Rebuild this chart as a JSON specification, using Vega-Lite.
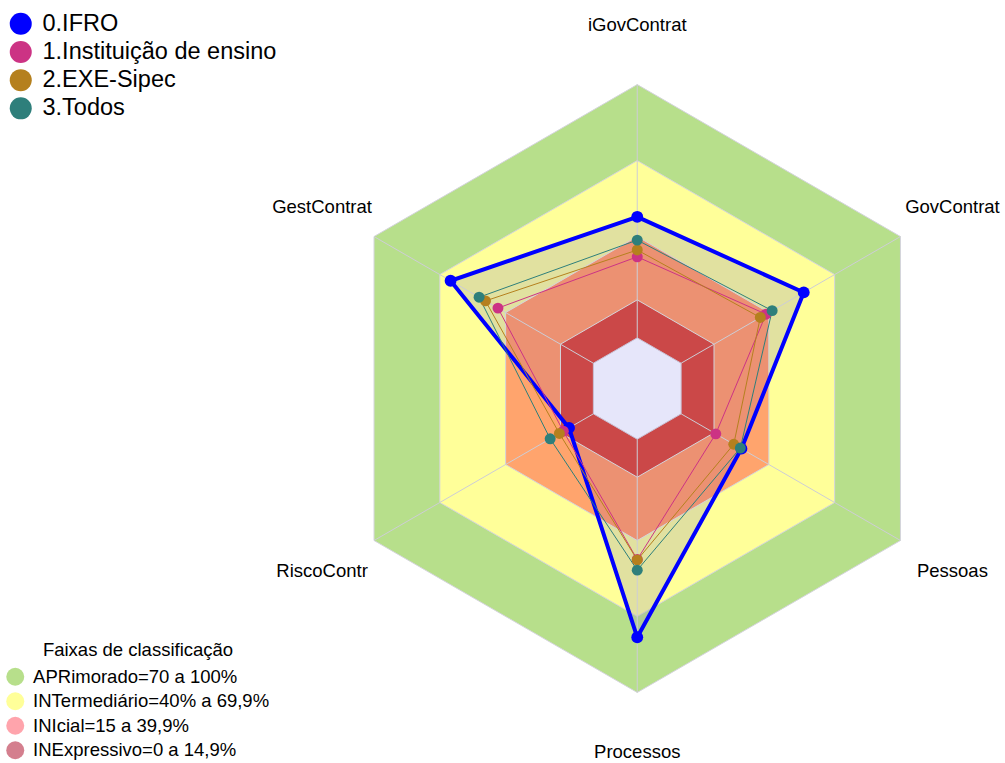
{
  "$schema": "https://vega.github.io/schema/vega-lite/v6.json",
  "width": 1005,
  "height": 763,
  "padding": 0,
  "autosize": "none",
  "background": "white",
  "config": {"view": {"stroke": null}, "font": "Liberation Sans"},
  "datasets": {
    "series": [
      {"serie": "0.IFRO", "eixo": "iGovContrat", "idx": 0, "valor": 47.8},
      {"serie": "0.IFRO", "eixo": "GovContrat", "idx": 1, "valor": 55.9},
      {"serie": "0.IFRO", "eixo": "Pessoas", "idx": 2, "valor": 27.5},
      {"serie": "0.IFRO", "eixo": "Processos", "idx": 3, "valor": 78.2},
      {"serie": "0.IFRO", "eixo": "RiscoContr", "idx": 4, "valor": 11.1},
      {"serie": "0.IFRO", "eixo": "GestContrat", "idx": 5, "valor": 65.1},
      {"serie": "1.Instituição de ensino", "eixo": "iGovContrat", "idx": 0, "valor": 32.0},
      {"serie": "1.Instituição de ensino", "eixo": "GovContrat", "idx": 1, "valor": 38.7},
      {"serie": "1.Instituição de ensino", "eixo": "Pessoas", "idx": 2, "valor": 15.8},
      {"serie": "1.Instituição de ensino", "eixo": "Processos", "idx": 3, "valor": 47.5},
      {"serie": "1.Instituição de ensino", "eixo": "RiscoContr", "idx": 4, "valor": 13.7},
      {"serie": "1.Instituição de ensino", "eixo": "GestContrat", "idx": 5, "valor": 43.5},
      {"serie": "2.EXE-Sipec", "eixo": "iGovContrat", "idx": 0, "valor": 34.7},
      {"serie": "2.EXE-Sipec", "eixo": "GovContrat", "idx": 1, "valor": 36.1},
      {"serie": "2.EXE-Sipec", "eixo": "Pessoas", "idx": 2, "valor": 24.0},
      {"serie": "2.EXE-Sipec", "eixo": "Processos", "idx": 3, "valor": 47.7},
      {"serie": "2.EXE-Sipec", "eixo": "RiscoContr", "idx": 4, "valor": 15.5},
      {"serie": "2.EXE-Sipec", "eixo": "GestContrat", "idx": 5, "valor": 49.2},
      {"serie": "3.Todos", "eixo": "iGovContrat", "idx": 0, "valor": 38.6},
      {"serie": "3.Todos", "eixo": "GovContrat", "idx": 1, "valor": 41.5},
      {"serie": "3.Todos", "eixo": "Pessoas", "idx": 2, "valor": 27.0},
      {"serie": "3.Todos", "eixo": "Processos", "idx": 3, "valor": 51.7},
      {"serie": "3.Todos", "eixo": "RiscoContr", "idx": 4, "valor": 19.7},
      {"serie": "3.Todos", "eixo": "GestContrat", "idx": 5, "valor": 52.1}
    ],
    "faixas": [
      {"faixa": "APRimorado=70 a 100%", "limite": 100, "idx": [0, 1, 2, 3, 4, 5]},
      {"faixa": "INTermediário=40% a 69,9%", "limite": 70, "idx": [0, 1, 2, 3, 4, 5]},
      {"faixa": "INIcial=15 a 39,9%", "limite": 40, "idx": [0, 1, 2, 3, 4, 5]},
      {"faixa": "INExpressivo=0 a 14,9%", "limite": 15, "idx": [0, 1, 2, 3, 4, 5]},
      {"faixa": "centro", "limite": 0, "idx": [0, 1, 2, 3, 4, 5]}
    ],
    "eixos": [
      {"eixo": "iGovContrat", "idx": 0},
      {"eixo": "GovContrat", "idx": 1},
      {"eixo": "Pessoas", "idx": 2},
      {"eixo": "Processos", "idx": 3},
      {"eixo": "RiscoContr", "idx": 4},
      {"eixo": "GestContrat", "idx": 5}
    ]
  },
  "encoding": {
    "x": {"field": "x", "type": "quantitative", "scale": {"domain": [-251.6, 145.2], "nice": false, "zero": false}, "axis": null},
    "y": {"field": "y", "type": "quantitative", "scale": {"domain": [-147.85, 153.4], "nice": false, "zero": false}, "axis": null}
  },
  "layer": [
    {
      "data": {"name": "faixas"},
      "transform": [
        {"filter": "datum.faixa === 'APRimorado=70 a 100%'"},
        {"flatten": ["idx"]},
        {"calculate": "(90 - 60*datum.idx)*PI/180", "as": "ang"},
        {"calculate": "(datum.limite + 20)*cos(datum.ang)", "as": "x"},
        {"calculate": "(datum.limite + 20)*sin(datum.ang)", "as": "y"}
      ],
      "mark": {"type": "line", "interpolate": "linear-closed", "stroke": "#D4D4DC", "strokeWidth": 1},
      "encoding": {
        "fill": {"field": "faixa", "type": "nominal",
          "scale": {"domain": ["APRimorado=70 a 100%", "INTermediário=40% a 69,9%", "INIcial=15 a 39,9%", "INExpressivo=0 a 14,9%"],
                    "range": ["#B7DF8B", "#FFFF99", "rgba(255,20,40,0.39)", "rgba(170,0,30,0.5)"]},
          "legend": {"orient": "none", "legendX": 6, "legendY": 641, "title": "Faixas de classificação", "titleLimit": 600, "titleFontSize": 18.5, "titleFontWeight": "normal", "titleFont": "Liberation Sans", "titleAnchor": "middle", "titleColor": "#000", "titlePadding": 8, "symbolType": "circle", "symbolSize": 324, "symbolStrokeWidth": 0, "labelFontSize": 18.5, "labelFont": "Liberation Sans", "labelColor": "#000", "labelLimit": 500, "rowPadding": 5.5, "labelOffset": 8.6}},
        "order": {"field": "idx", "type": "quantitative"}
      }
    },
    {
      "data": {"name": "faixas"},
      "transform": [
        {"filter": "datum.faixa === 'INTermediário=40% a 69,9%'"},
        {"flatten": ["idx"]},
        {"calculate": "(90 - 60*datum.idx)*PI/180", "as": "ang"},
        {"calculate": "(datum.limite + 20)*cos(datum.ang)", "as": "x"},
        {"calculate": "(datum.limite + 20)*sin(datum.ang)", "as": "y"}
      ],
      "mark": {"type": "line", "interpolate": "linear-closed", "stroke": "#D4D4DC", "strokeWidth": 1},
      "encoding": {
        "fill": {"field": "faixa", "type": "nominal",
          "scale": {"domain": ["APRimorado=70 a 100%", "INTermediário=40% a 69,9%", "INIcial=15 a 39,9%", "INExpressivo=0 a 14,9%"],
                    "range": ["#B7DF8B", "#FFFF99", "rgba(255,20,40,0.39)", "rgba(170,0,30,0.5)"]},
          "legend": {"orient": "none", "legendX": 6, "legendY": 641, "title": "Faixas de classificação", "titleLimit": 600, "titleFontSize": 18.5, "titleFontWeight": "normal", "titleFont": "Liberation Sans", "titleAnchor": "middle", "titleColor": "#000", "titlePadding": 8, "symbolType": "circle", "symbolSize": 324, "symbolStrokeWidth": 0, "labelFontSize": 18.5, "labelFont": "Liberation Sans", "labelColor": "#000", "labelLimit": 500, "rowPadding": 5.5, "labelOffset": 8.6}},
        "order": {"field": "idx", "type": "quantitative"}
      }
    },
    {
      "data": {"name": "series"},
      "transform": [
        {"filter": "datum.serie === '0.IFRO'"},
        {"calculate": "(90 - 60*datum.idx)*PI/180", "as": "ang"},
        {"calculate": "(datum.valor + 20)*cos(datum.ang)", "as": "x"},
        {"calculate": "(datum.valor + 20)*sin(datum.ang)", "as": "y"}
      ],
      "mark": {"type": "line", "interpolate": "linear-closed", "fill": "#9A9AB4", "fillOpacity": 0.3, "strokeOpacity": 0},
      "encoding": {"order": {"field": "idx", "type": "quantitative"}}
    },
    {
      "data": {"name": "faixas"},
      "transform": [
        {"filter": "datum.faixa === 'INIcial=15 a 39,9%'"},
        {"flatten": ["idx"]},
        {"calculate": "(90 - 60*datum.idx)*PI/180", "as": "ang"},
        {"calculate": "(datum.limite + 20)*cos(datum.ang)", "as": "x"},
        {"calculate": "(datum.limite + 20)*sin(datum.ang)", "as": "y"}
      ],
      "mark": {"type": "line", "interpolate": "linear-closed", "stroke": "#D4D4DC", "strokeWidth": 1},
      "encoding": {
        "fill": {"field": "faixa", "type": "nominal",
          "scale": {"domain": ["APRimorado=70 a 100%", "INTermediário=40% a 69,9%", "INIcial=15 a 39,9%", "INExpressivo=0 a 14,9%"],
                    "range": ["#B7DF8B", "#FFFF99", "rgba(255,20,40,0.39)", "rgba(170,0,30,0.5)"]},
          "legend": {"orient": "none", "legendX": 6, "legendY": 641, "title": "Faixas de classificação", "titleLimit": 600, "titleFontSize": 18.5, "titleFontWeight": "normal", "titleFont": "Liberation Sans", "titleAnchor": "middle", "titleColor": "#000", "titlePadding": 8, "symbolType": "circle", "symbolSize": 324, "symbolStrokeWidth": 0, "labelFontSize": 18.5, "labelFont": "Liberation Sans", "labelColor": "#000", "labelLimit": 500, "rowPadding": 5.5, "labelOffset": 8.6}},
        "order": {"field": "idx", "type": "quantitative"}
      }
    },
    {
      "data": {"name": "faixas"},
      "transform": [
        {"filter": "datum.faixa === 'INExpressivo=0 a 14,9%'"},
        {"flatten": ["idx"]},
        {"calculate": "(90 - 60*datum.idx)*PI/180", "as": "ang"},
        {"calculate": "(datum.limite + 20)*cos(datum.ang)", "as": "x"},
        {"calculate": "(datum.limite + 20)*sin(datum.ang)", "as": "y"}
      ],
      "mark": {"type": "line", "interpolate": "linear-closed", "stroke": "#D4D4DC", "strokeWidth": 1},
      "encoding": {
        "fill": {"field": "faixa", "type": "nominal",
          "scale": {"domain": ["APRimorado=70 a 100%", "INTermediário=40% a 69,9%", "INIcial=15 a 39,9%", "INExpressivo=0 a 14,9%"],
                    "range": ["#B7DF8B", "#FFFF99", "rgba(255,20,40,0.39)", "rgba(170,0,30,0.5)"]},
          "legend": {"orient": "none", "legendX": 6, "legendY": 641, "title": "Faixas de classificação", "titleLimit": 600, "titleFontSize": 18.5, "titleFontWeight": "normal", "titleFont": "Liberation Sans", "titleAnchor": "middle", "titleColor": "#000", "titlePadding": 8, "symbolType": "circle", "symbolSize": 324, "symbolStrokeWidth": 0, "labelFontSize": 18.5, "labelFont": "Liberation Sans", "labelColor": "#000", "labelLimit": 500, "rowPadding": 5.5, "labelOffset": 8.6}},
        "order": {"field": "idx", "type": "quantitative"}
      }
    },
    {
      "data": {"name": "faixas"},
      "transform": [
        {"filter": "datum.faixa === 'centro'"},
        {"flatten": ["idx"]},
        {"calculate": "(90 - 60*datum.idx)*PI/180", "as": "ang"},
        {"calculate": "(datum.limite + 20)*cos(datum.ang)", "as": "x"},
        {"calculate": "(datum.limite + 20)*sin(datum.ang)", "as": "y"}
      ],
      "mark": {"type": "line", "interpolate": "linear-closed", "fill": "#E6E6FA", "stroke": "#C8C0D4", "strokeWidth": 1},
      "encoding": {"order": {"field": "idx", "type": "quantitative"}}
    },
    {
      "data": {"name": "eixos"},
      "transform": [
        {"calculate": "(90 - 60*datum.idx)*PI/180", "as": "ang"},
        {"calculate": "20*cos(datum.ang)", "as": "x"},
        {"calculate": "20*sin(datum.ang)", "as": "y"},
        {"calculate": "120*cos(datum.ang)", "as": "x2"},
        {"calculate": "120*sin(datum.ang)", "as": "y2"}
      ],
      "mark": {"type": "rule", "color": "#CDCDD6", "strokeWidth": 1},
      "encoding": {"x2": {"field": "x2"}, "y2": {"field": "y2"}}
    },
    {
      "data": {"name": "series"},
      "transform": [
        {"filter": "datum.serie === '0.IFRO'"},
        {"calculate": "(90 - 60*datum.idx)*PI/180", "as": "ang"},
        {"calculate": "(datum.valor + 20)*cos(datum.ang)", "as": "x"},
        {"calculate": "(datum.valor + 20)*sin(datum.ang)", "as": "y"}
      ],
      "mark": {"type": "line", "interpolate": "linear-closed", "strokeWidth": 4},
      "encoding": {
        "stroke": {"field": "serie", "type": "nominal", "scale": {"range": ["#0000FF", "#CC3384", "#B5801E", "#2E7F7B"]}, "legend": null},
        "order": {"field": "idx", "type": "quantitative"}
      }
    },
    {
      "data": {"name": "series"},
      "transform": [
        {"filter": "datum.serie === '0.IFRO'"},
        {"calculate": "(90 - 60*datum.idx)*PI/180", "as": "ang"},
        {"calculate": "(datum.valor + 20)*cos(datum.ang)", "as": "x"},
        {"calculate": "(datum.valor + 20)*sin(datum.ang)", "as": "y"}
      ],
      "mark": {"type": "point", "shape": "circle", "filled": true, "opacity": 1, "size": 140},
      "encoding": {
        "color": {"field": "serie", "type": "nominal", "scale": {"range": ["#0000FF", "#CC3384", "#B5801E", "#2E7F7B"]},
          "legend": {"orient": "none", "legendX": 9, "legendY": 12, "title": null, "symbolType": "circle", "symbolSize": 484, "symbolStrokeWidth": 0, "symbolOpacity": 1, "labelFontSize": 23.5, "labelFont": "Liberation Sans", "labelColor": "#000", "labelLimit": 500, "rowPadding": 3.2, "labelOffset": 10}}
      }
    },
    {
      "data": {"name": "series"},
      "transform": [
        {"filter": "datum.serie !== '0.IFRO'"},
        {"calculate": "(90 - 60*datum.idx)*PI/180", "as": "ang"},
        {"calculate": "(datum.valor + 20)*cos(datum.ang)", "as": "x"},
        {"calculate": "(datum.valor + 20)*sin(datum.ang)", "as": "y"}
      ],
      "mark": {"type": "line", "interpolate": "linear-closed", "strokeWidth": 1},
      "encoding": {
        "stroke": {"field": "serie", "type": "nominal", "scale": {"range": ["#0000FF", "#CC3384", "#B5801E", "#2E7F7B"]}, "legend": null},
        "order": {"field": "idx", "type": "quantitative"}
      }
    },
    {
      "data": {"name": "series"},
      "transform": [
        {"filter": "datum.serie !== '0.IFRO'"},
        {"calculate": "(90 - 60*datum.idx)*PI/180", "as": "ang"},
        {"calculate": "(datum.valor + 20)*cos(datum.ang)", "as": "x"},
        {"calculate": "(datum.valor + 20)*sin(datum.ang)", "as": "y"}
      ],
      "mark": {"type": "point", "shape": "circle", "filled": true, "opacity": 1, "size": 120},
      "encoding": {
        "color": {"field": "serie", "type": "nominal", "scale": {"range": ["#0000FF", "#CC3384", "#B5801E", "#2E7F7B"]},
          "legend": {"orient": "none", "legendX": 9, "legendY": 12, "title": null, "symbolType": "circle", "symbolSize": 484, "symbolStrokeWidth": 0, "symbolOpacity": 1, "labelFontSize": 23.5, "labelFont": "Liberation Sans", "labelColor": "#000", "labelLimit": 500, "rowPadding": 3.2, "labelOffset": 10}}
      }
    },
    {
      "data": {"name": "eixos"},
      "transform": [
        {"calculate": "(90 - 60*datum.idx)*PI/180", "as": "ang"},
        {"calculate": "143.7*cos(datum.ang)", "as": "x"},
        {"calculate": "143.7*sin(datum.ang)", "as": "y"}
      ],
      "mark": {"type": "text", "font": "Liberation Sans", "fontSize": 18.5, "color": "#000", "align": "center", "baseline": "middle"},
      "encoding": {"text": {"field": "eixo", "type": "nominal"}}
    }
  ]
}
